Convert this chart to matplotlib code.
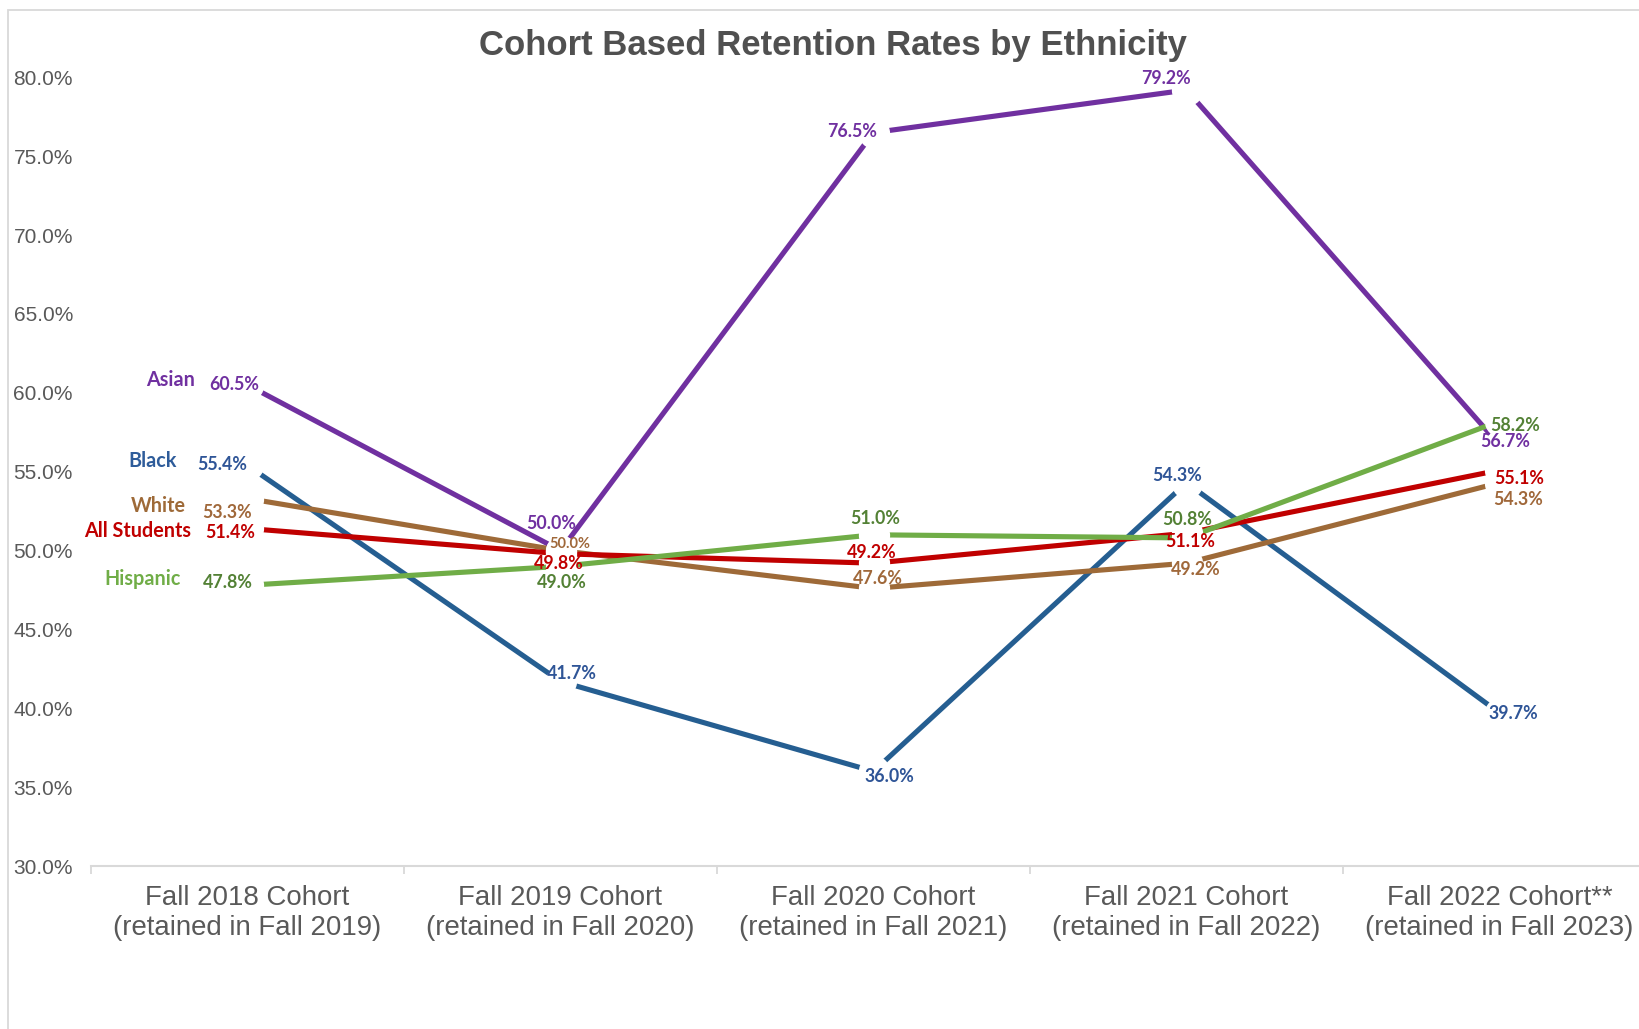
import matplotlib
matplotlib.use("Agg")
import matplotlib.pyplot as plt
from matplotlib.patches import Rectangle
from matplotlib.ticker import FixedLocator, FuncFormatter

# ---------------- data ----------------
categories = [
    "Fall 2018 Cohort\n(retained in Fall 2019)",
    "Fall 2019 Cohort\n(retained in Fall 2020)",
    "Fall 2020 Cohort\n(retained in Fall 2021)",
    "Fall 2021 Cohort\n(retained in Fall 2022)",
    "Fall 2022 Cohort**\n(retained in Fall 2023)",
]
series_names = ["Asian", "Black", "White", "All Students", "Hispanic"]
asian = [60.5, 50.0, 76.5, 79.2, 56.7]
black = [55.4, 41.7, 36.0, 54.3, 39.7]
white = [53.3, 50.0, 47.6, 49.2, 54.3]
all_students = [51.4, 49.8, 49.2, 51.1, 55.1]
hispanic = [47.8, 49.0, 51.0, 50.8, 58.2]
y_ticks = [30, 35, 40, 45, 50, 55, 60, 65, 70, 75, 80]

# ---------------- styles ----------------
line_colors = ["#7030A0", "#255E91", "#9E6A38", "#C00000", "#70AD47"]
value_colors = ["#7030A0", "#2F5597", "#A0683A", "#C00000", "#538135"]
name_colors = ["#7030A0", "#2E5C9A", "#9E6A38", "#C00000", "#70AD47"]

# label offsets in pixels (dx right, dy down) relative to each point
value_offsets = [
    [(-13, 0), (-9, -27), (-21.5, -1), (-21, -11.6), (5.5, -3)],
    [(-25.5, -1), (11, -8), (15.5, 5), (-9.5, -7.5), (13.5, 0)],
    [(-20, 14), (9.5, -7), (4, -10), (9, 6), (18.5, 16.5)],
    [(-17.5, 4), (-2, 9.5), (-1.5, -11), (3.5, 8.7), (19.5, 8)],
    [(-20, -3), (1.5, 16), (1.5, -16.5), (0.5, -18), (15.5, 4)],
]
name_offsets = [(-53, -5), (-71, -4.6), (-62, 7.4), (-56, 3), (-67, -6)]

W, H = 1640, 1029
fig = plt.figure(figsize=(W / 100, H / 100), dpi=100)
fig.patch.set_facecolor("white")

# chart border
fig.patches.append(Rectangle((8 / W, -0.05), 1.2, 1 - 10 / H + 0.05,
                             transform=fig.transFigure, fill=False,
                             edgecolor="#D9D9D9", linewidth=1.3))

ax_left, ax_right = 91 / W, 1656 / W
ax_bottom, ax_top = 1 - 866 / H, 1 - 77.4 / H
ax = fig.add_axes([ax_left, ax_bottom, ax_right - ax_left, ax_top - ax_bottom])
ax.set_facecolor("none")

data = [asian, black, white, all_students, hispanic]
x = list(range(len(categories)))

for vals, col in zip(data, line_colors):
    ax.plot(x, vals, color=col, linewidth=3.7, solid_capstyle="butt", zorder=2)
for vals in data:
    ax.plot(x, vals, linestyle="none", marker="o", markersize=21.5,
            markerfacecolor="white", markeredgecolor="white", zorder=3)

label_font = "Lato"
for si, vals in enumerate(data):
    for i, v in enumerate(vals):
        dx, dy = value_offsets[si][i]
        size = 12.8
        if si == 2 and i == 1:
            size = 10.5
        ax.annotate(f"{v:.1f}%", xy=(i, v), xytext=(dx, -dy), textcoords="offset pixels",
                    ha="center", va="center", fontsize=size, fontweight="bold",
                    family=label_font, color=value_colors[si], zorder=5)
    dx, dy = name_offsets[si]
    ax.annotate(series_names[si], xy=(0, vals[0]), xytext=(dx, -dy), textcoords="offset pixels",
                ha="right", va="center", fontsize=14.2, fontweight="bold",
                family=label_font, color=name_colors[si], zorder=5)

ax.set_xlim(-0.5, len(categories) - 0.5)
ax.set_ylim(30, 80)
ax.yaxis.set_major_locator(FixedLocator(y_ticks))
ax.yaxis.set_major_formatter(FuncFormatter(lambda v, p: f"{v:.1f}%"))

for s in ["top", "right", "left"]:
    ax.spines[s].set_visible(False)
ax.spines["bottom"].set_color("#D9D9D9")
ax.spines["bottom"].set_linewidth(1.5)

ax.set_xticks(x)
ax.set_xticklabels(categories, fontsize=19.9, family="Liberation Sans", color="#595959",
                   linespacing=1.2)
ax.tick_params(axis="x", which="major", length=0, pad=14)
ax.set_xticks([i - 0.5 for i in range(len(categories) + 1)], minor=True)
ax.tick_params(axis="x", which="minor", length=6, width=1.3, color="#D9D9D9")
ax.tick_params(axis="y", length=0, pad=13, labelsize=15, labelcolor="#595959")
for lab in ax.get_yticklabels():
    lab.set_family("Liberation Sans")

fig.text(833 / W, 1 - 45 / H, "Cohort Based Retention Rates by Ethnicity",
         ha="center", va="center", fontsize=25, fontweight="bold",
         family="Liberation Sans", color="#505050")

fig.savefig("out.png", dpi=100)
